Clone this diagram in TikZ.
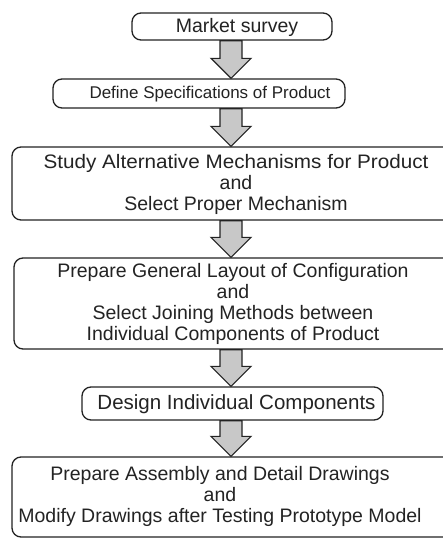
\documentclass[tikz,border=0pt]{standalone}
\usepackage{fontspec}
\setmainfont{Liberation Sans}
\usetikzlibrary{calc}
\definecolor{inkc}{HTML}{232323}
\definecolor{arrowgray}{HTML}{C8C8C8}
\tikzset{
  box/.style={draw=inkc, line width=1.3pt, rounded corners=9pt, inner sep=0pt, fill=white},
  txt/.style={inner sep=0pt, align=center, text=inkc, font=\fontsize{19.5}{21}\selectfont},
  flowarr/.style={draw=inkc, line width=1.2pt, fill=arrowgray, line join=miter},
}
\newcommand\flowarrow[2]{%
  \draw[flowarr] let \p1=(ax |- #1.south), \p2=(ax |- #2.north) in
    (\x1-11pt,\y1) -- (\x1+11pt,\y1) -- (\x1+11pt,\y2+20pt) -- (\x1+20pt,\y2+20pt)
    -- (\x1,\y2) -- (\x1-20pt,\y2+20pt) -- (\x1-11pt,\y2+20pt) -- cycle;}
\begin{document}
\begin{tikzpicture}[x=1pt,y=-1pt]
\useasboundingbox[fill=white] (0,0) rectangle (443,538);
\coordinate (ax) at (231,0);
% boxes
\node[box, minimum width=200pt, minimum height=27pt] (b1) at (232,26.5) {};
\node[box, minimum width=292pt, minimum height=29pt] (b2) at (199,93.5) {};
\node[box, minimum width=440pt, minimum height=73pt] (b3) at (232,183.5) {};
\node[box, minimum width=438pt, minimum height=91pt] (b4) at (233,303.5) {};
\node[box, minimum width=301pt, minimum height=33pt] (b5) at (232.5,403.5) {};
\node[box, minimum width=440pt, minimum height=80pt] (b6) at (232,497) {};
% texts
\node[txt] (t1) at (237,27) {Market survey};
\node[txt, font=\fontsize{17}{20}\selectfont] (t2) at (210,94) {Define Specifications of Product};
\node[txt] (t3) at (236,184.5) {\scalebox{1.06}[1]{Study Alternative Mechanisms for Product}\\and\\Select Proper Mechanism};
\node[txt] (t4) at (233,304) {Prepare General Layout of Configuration\\and\\Select Joining Methods between\\Individual Components of Product};
\node[txt, font=\fontsize{20.5}{21}\selectfont] (t5) at (236.5,404) {Design Individual Components};
\node[txt] (t6) at (220,496.5) {Prepare Assembly and Detail Drawings\\and\\Modify Drawings after Testing Prototype Model};
% arrows
\flowarrow{b1}{b2}
\flowarrow{b2}{b3}
\flowarrow{b3}{b4}
\flowarrow{b4}{b5}
\flowarrow{b5}{b6}
\end{tikzpicture}
\end{document}
